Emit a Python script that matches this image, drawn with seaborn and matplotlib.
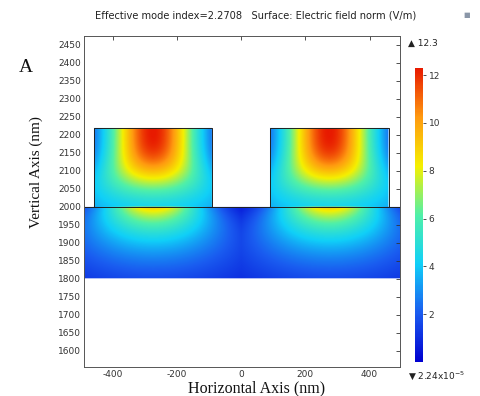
import numpy as np
import matplotlib
matplotlib.use("Agg")
import matplotlib.pyplot as plt
import seaborn as sns

# ---------------- data ----------------
title = "Effective mode index=2.2708   Surface: Electric field norm (V/m)"
x_ticks = [-400, -200, 0, 200, 400]
y_ticks = list(range(1600, 2451, 50))
cbar_ticks = [2, 4, 6, 8, 10, 12]
x_limits = [-490, 495]
y_limits = [1555, 2475]

# geometry (nm)
rib_left = [-460, 90]
rib_right = [-90, 460]
rib_centers = [-275, 275]
rib_top = 2220
slab_top = 2000
slab_bottom = 1800

# field parameters (V/m)
field_max = 12.3
field_min = 2.24e-5
slab_peak = 9.0
rib_width_top = 148      # lateral 1/e width at rib top
rib_width_bottom = 400   # lateral 1/e width at rib bottom
rib_width_power = 3
rib_depth_scale = 162    # vertical decay length from rib top
rib_depth_power = 3
rib_floor = 0.3
slab_width_top = 170
slab_width_growth = 1.2
slab_decay = 121

palette_colors = ["#0000d0", "#1a5cf0", "#10d0f8", "#50f0a8", "#f5f000", "#ff9a10", "#e81a00"]

# ---------------- style ----------------
sns.set_theme(style="white")
plt.rcParams["font.family"] = ["DejaVu Sans"]
plt.rcParams["axes.unicode_minus"] = False

cmap = sns.blend_palette(palette_colors, as_cmap=True)
cmap.set_bad((1, 1, 1, 0))

fig = plt.figure(figsize=(4.81, 3.96), dpi=100)
fig.patch.set_facecolor("white")
ax = fig.add_axes([84 / 481, 1 - 367 / 396, (400 - 84) / 481, (367 - 36) / 396])

# ---------------- field ----------------
xs = np.linspace(x_limits[0], x_limits[1], 700)
ys = np.linspace(y_limits[0], y_limits[1], 700)
X, Y = np.meshgrid(xs, ys)
F = np.full(X.shape, np.nan)

for l, r, c in zip(rib_left, rib_right, rib_centers):
    m = (X >= l) & (X <= r) & (Y >= slab_top) & (Y <= rib_top)
    d = np.clip(rib_top - Y, 0, None)
    frac = np.clip(d / (rib_top - slab_top), 0, 1)
    wx = rib_width_top + (rib_width_bottom - rib_width_top) * frac ** rib_width_power
    v = rib_floor + (1 - rib_floor) * np.exp(-(d / rib_depth_scale) ** rib_depth_power)
    val = field_max * np.exp(-((X - c) / wx) ** 2) * v
    F[m] = val[m]

ms = (Y >= slab_bottom) & (Y < slab_top)
d = slab_top - Y
ws = slab_width_top + slab_width_growth * d
slab_vals = np.max([slab_peak * np.exp(-((X - c) / ws) ** 2) * np.exp(-d / slab_decay) for c in rib_centers], axis=0)
F[ms] = slab_vals[ms]

im = ax.imshow(F, extent=[x_limits[0], x_limits[1], y_limits[0], y_limits[1]], origin="lower",
               cmap=cmap, vmin=field_min, vmax=field_max, aspect="auto", interpolation="bilinear")

# outlines
for l, r in zip(rib_left, rib_right):
    ax.plot([l, l, r, r], [slab_top, rib_top, rib_top, slab_top], color="#202020", lw=0.7)
ax.plot(x_limits, [slab_top, slab_top], color="#202020", lw=0.7)

ax.set_xlim(x_limits)
ax.set_ylim(y_limits)
ax.set_xticks(x_ticks)
ax.set_yticks(y_ticks)
ax.tick_params(direction="in", length=3, width=0.6, top=True, right=True,
               labelsize=6.5, colors="#333333", pad=2)
for s in ax.spines.values():
    s.set_color("#555555")
    s.set_linewidth(0.7)

# ---------------- text ----------------
fig.text(256 / 481, 1 - 16 / 396, title, ha="center", va="center", fontsize=7.1, color="#222222")
fig.text(257 / 481, 1 - 388 / 396, "Horizontal Axis (nm)", ha="center", va="center",
         fontsize=11.5, family="Liberation Serif", color="#111111")
fig.text(36 / 481, 1 - 172 / 396, "Vertical Axis (nm)", ha="center", va="center", rotation=90,
         fontsize=10.9, family="Liberation Serif", color="#111111")
fig.text(26 / 481, 1 - 67 / 396, "A", ha="center", va="center", fontsize=14,
         family="Liberation Serif", color="#111111")
fig.text(467 / 481, 1 - 15 / 396, "\u25A0", ha="center", va="center", fontsize=5, color="#8a96a8")

# ---------------- colorbar ----------------
cax = fig.add_axes([415 / 481, 1 - 362 / 396, 8 / 481, 294 / 396])
cb = fig.colorbar(im, cax=cax)
cb.set_ticks(cbar_ticks)
cb.set_ticklabels([str(t) for t in cbar_ticks])
cb.outline.set_visible(False)
cax.tick_params(labelsize=6.5, colors="#333333", length=2, width=0.6, pad=2)
fig.text(408 / 481, 1 - 43 / 396, "\u25B2 " + str(field_max), ha="left", va="center",
         fontsize=6.5, color="#222222")
fig.text(408 / 481, 1 - 376 / 396, "\u25BC 2.24x10$^{-5}$", ha="left", va="center",
         fontsize=6.5, color="#222222")

fig.savefig("out.png", dpi=100, facecolor="white")
